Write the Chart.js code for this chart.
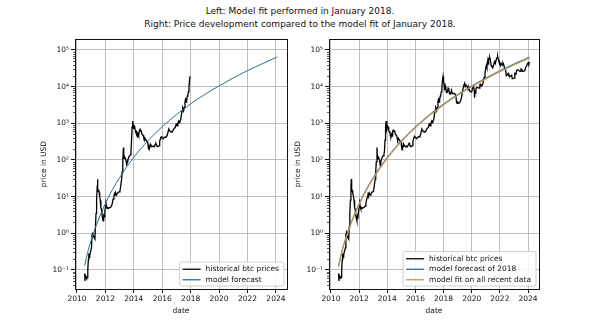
<!DOCTYPE html>
<html>
<head>
<meta charset="utf-8">
<script src="https://cdn.jsdelivr.net/npm/chart.js@4.4.0/dist/chart.umd.min.js"></script>
<style>
  body { margin: 0; background: #fff; width: 600px; height: 328px; position: relative; overflow: hidden; font-family: "DejaVu Sans"; }
  #title { position: absolute; left: 0; top: 5px; width: 600px; text-align: center; font-size: 9px; line-height: 13px; color: #111; }
  #chart-left { position: absolute; left: 31px; top: 0; }
  #chart-right { position: absolute; left: 285px; top: 0; }
</style>
</head>
<body>
<div id="title">Left: Model fit performed in January 2018.<br>Right: Price development compared to the model fit of January 2018.</div>
<canvas id="chart-left" width="270" height="328"></canvas>
<canvas id="chart-right" width="268" height="328"></canvas>
<script>

//************ Data */

// historical btc price, date as decimal year
const priceDates = [
  2010.54, 2010.56, 2010.60, 2010.64, 2010.68, 2010.72, 2010.76, 2010.80, 2010.83, 2010.86,
  2010.90, 2010.94, 2010.98, 2011.02, 2011.06, 2011.10, 2011.14, 2011.18, 2011.22, 2011.26,
  2011.30, 2011.34, 2011.38, 2011.42, 2011.44, 2011.47, 2011.50, 2011.53, 2011.56, 2011.60,
  2011.64, 2011.68, 2011.72, 2011.76, 2011.80, 2011.84, 2011.88, 2011.92, 2011.96, 2012.00,
  2012.04, 2012.08, 2012.12, 2012.16, 2012.22, 2012.28, 2012.36, 2012.42, 2012.48, 2012.54,
  2012.60, 2012.64, 2012.68, 2012.72, 2012.78, 2012.84, 2012.90, 2012.96, 2013.02, 2013.08,
  2013.14, 2013.18, 2013.22, 2013.27, 2013.29, 2013.32, 2013.36, 2013.40, 2013.46, 2013.50,
  2013.54, 2013.58, 2013.64, 2013.70, 2013.76, 2013.80, 2013.84, 2013.88, 2013.92, 2013.95,
  2013.98, 2014.02, 2014.06, 2014.10, 2014.14, 2014.18, 2014.22, 2014.26, 2014.30, 2014.34,
  2014.38, 2014.42, 2014.46, 2014.50, 2014.54, 2014.58, 2014.62, 2014.66, 2014.70, 2014.74,
  2014.78, 2014.82, 2014.86, 2014.90, 2014.94, 2014.98, 2015.02, 2015.05, 2015.08, 2015.12,
  2015.16, 2015.20, 2015.26, 2015.32, 2015.38, 2015.44, 2015.50, 2015.55, 2015.60, 2015.66,
  2015.72, 2015.78, 2015.82, 2015.86, 2015.90, 2015.96, 2016.02, 2016.08, 2016.14, 2016.20,
  2016.26, 2016.32, 2016.38, 2016.46, 2016.50, 2016.56, 2016.62, 2016.68, 2016.74, 2016.80,
  2016.86, 2016.92, 2016.98, 2017.02, 2017.05, 2017.10, 2017.16, 2017.20, 2017.24, 2017.30,
  2017.36, 2017.40, 2017.44, 2017.48, 2017.52, 2017.56, 2017.60, 2017.64, 2017.68, 2017.72,
  2017.76, 2017.80, 2017.84, 2017.88, 2017.92, 2017.96, 2018.00, 2018.04, 2018.08, 2018.12,
  2018.16, 2018.20, 2018.26, 2018.32, 2018.38, 2018.44, 2018.50, 2018.56, 2018.62, 2018.70,
  2018.80, 2018.88, 2018.92, 2018.96, 2019.00, 2019.10, 2019.20, 2019.28, 2019.36, 2019.44,
  2019.50, 2019.54, 2019.60, 2019.68, 2019.74, 2019.80, 2019.86, 2019.92, 2020.00, 2020.06,
  2020.12, 2020.18, 2020.20, 2020.24, 2020.30, 2020.36, 2020.46, 2020.54, 2020.58, 2020.64,
  2020.70, 2020.78, 2020.82, 2020.88, 2020.94, 2021.00, 2021.04, 2021.08, 2021.12, 2021.16,
  2021.20, 2021.24, 2021.28, 2021.32, 2021.38, 2021.44, 2021.50, 2021.56, 2021.62, 2021.68,
  2021.74, 2021.80, 2021.84, 2021.88, 2021.92, 2021.98, 2022.04, 2022.10, 2022.16, 2022.22,
  2022.28, 2022.34, 2022.40, 2022.46, 2022.52, 2022.58, 2022.64, 2022.70, 2022.78, 2022.84,
  2022.88, 2022.96, 2023.02, 2023.06, 2023.14, 2023.20, 2023.28, 2023.36, 2023.44, 2023.50,
  2023.56, 2023.62, 2023.70, 2023.78, 2023.84, 2023.90, 2023.96, 2024.02, 2024.06, 2024.10
];
const priceUsd = [
  0.08, 0.05, 0.07, 0.065, 0.06, 0.062, 0.10, 0.19, 0.28, 0.22,
  0.25, 0.30, 0.30, 0.40, 0.90, 1.05, 0.85, 0.80, 0.75, 0.70,
  1.5, 3.5, 8, 18, 30, 17, 14, 15, 13, 10,
  8, 5, 4.5, 3.2, 2.6, 2.2, 3.0, 2.8, 4.0, 5.2,
  6.5, 5.5, 4.8, 5.0, 4.8, 5.0, 5.1, 5.5, 6.5, 8.5,
  10, 12, 11, 12.5, 11, 12, 13, 13.5, 14, 20,
  30, 47, 90, 220, 130, 110, 120, 110, 95, 70,
  90, 100, 120, 130, 140, 170, 350, 800, 1150, 900,
  700, 850, 800, 650, 580, 600, 450, 430, 500, 450,
  600, 650, 620, 630, 580, 500, 480, 470, 400, 350,
  390, 370, 350, 330, 320, 300, 220, 190, 240, 230,
  270, 250, 240, 230, 240, 230, 260, 285, 260, 230,
  235, 245, 320, 370, 420, 430, 400, 380, 420, 415,
  430, 450, 520, 700, 650, 600, 580, 600, 610, 700,
  740, 770, 960, 1000, 850, 1000, 1150, 1050, 1150, 1250,
  1800, 2200, 2700, 2500, 2400, 2700, 4000, 4500, 3800, 4300,
  5500, 6000, 7200, 9000, 15000, 19000, 14000, 11500, 8000, 10500,
  9000, 7000, 7000, 9000, 7500, 6500, 6300, 8000, 6500, 6500,
  6400, 5500, 3800, 3500, 3800, 3500, 4000, 5200, 8000, 11000,
  12500, 10000, 11000, 10000, 8200, 9200, 7500, 7200, 7200, 9000,
  10200, 8000, 5000, 6800, 8800, 9600, 9300, 9200, 11500, 11800,
  10500, 11500, 13500, 18000, 23000, 33000, 38000, 33000, 47000, 57000,
  50000, 58000, 63000, 55000, 38000, 35000, 33000, 40000, 48000, 43000,
  55000, 62000, 67000, 57000, 50000, 47000, 38000, 43000, 39000, 45000,
  40000, 30000, 29000, 20000, 21000, 23000, 20000, 19500, 19500, 20500,
  16500, 16700, 17000, 23000, 22000, 28000, 29000, 27000, 26000, 30500,
  29500, 26000, 26500, 28000, 35000, 37000, 42000, 45000, 42000, 47000
];
// the left panel only has prices up to the 2018 fit
const fitCutoff = 2017.97;

// model curves
const modelDates = [
  2010.54, 2010.75, 2011.0, 2011.25, 2011.5, 2011.75, 2012.0, 2012.5, 2013.0, 2013.5,
  2014.0, 2014.5, 2015.0, 2015.5, 2016.0, 2016.5, 2017.0, 2017.5, 2018.0, 2019.0,
  2020.0, 2021.0, 2022.0, 2023.0, 2024.0, 2024.1
];
const forecast2018 = [
  0.13, 0.30, 0.65, 1.26, 2.3, 3.95, 6.5, 15.6, 33, 65,
  118, 204, 335, 530, 810, 1190, 1730, 2430, 3400, 6150,
  10500, 17300, 27300, 41600, 61800, 64100
];
const fitRecent = [
  0.122, 0.28, 0.61, 1.18, 2.16, 3.7, 6.1, 14.7, 31, 61,
  111, 192, 315, 498, 760, 1120, 1630, 2280, 3200, 5800,
  9900, 16300, 25700, 39100, 58100, 60300
];

// axes
const yearTicks = [2010, 2012, 2014, 2016, 2018, 2020, 2022, 2024];
const decadeTicks = [0.1, 1, 10, 100, 1000, 10000, 100000];
const decadeLabels = ['10\u207b\u00b9', '10\u2070', '10\u00b9', '10\u00b2', '10\u00b3', '10\u2074', '10\u2075'];

const FONT = 'DejaVu Sans';
const INK = '#111';
const GRID = '#bdbdbd';
const BLUE = '#2d6d93';
const TAN = '#c4955a';

function points(xs, ys) {
    return xs.map((x, i) => ({ x: x, y: ys[i] }));
}

//******** Plugins */
// matplotlib-like frame + minor log ticks
const framePlugin = {
    id: 'frame',
    afterDraw(chart) {
        const ctx = chart.ctx;
        const a = chart.chartArea;
        const y = chart.scales.y;
        ctx.save();
        ctx.strokeStyle = INK;
        ctx.lineWidth = 0.7;
        for (let d = -2; d <= 5; d++) {
            for (let k = 2; k <= 9; k++) {
                const v = k * Math.pow(10, d);
                if (v < y.min || v > y.max) continue;
                const py = Math.round(y.getPixelForValue(v)) + 0.5;
                ctx.beginPath();
                ctx.moveTo(a.left - 2, py);
                ctx.lineTo(a.left, py);
                ctx.stroke();
            }
        }
        ctx.lineWidth = 1;
        ctx.strokeRect(Math.round(a.left) + 0.5, Math.round(a.top) + 0.5,
            Math.round(a.right - a.left), Math.round(a.bottom - a.top));
        ctx.restore();
    }
};

// legend drawn inside the lower right corner
const legendPlugin = {
    id: 'insideLegend',
    afterDraw(chart) {
        const ctx = chart.ctx;
        const a = chart.chartArea;
        const items = chart.data.datasets;
        ctx.save();
        ctx.font = '7.5px "' + FONT + '"';
        const textW = Math.max(...items.map(d => ctx.measureText(d.label).width));
        const rowH = 10.5, handle = 18;
        const w = 3 + handle + 5 + textW + 5;
        const h = items.length * rowH + 3;
        const x0 = a.right - 3 - w;
        const y0 = a.bottom - 3 - h;
        ctx.fillStyle = 'rgba(255,255,255,0.85)';
        ctx.strokeStyle = '#d0d0d0';
        ctx.lineWidth = 1;
        ctx.beginPath();
        ctx.roundRect(x0, y0, w, h, 2);
        ctx.fill();
        ctx.stroke();
        items.forEach((d, i) => {
            const cy = y0 + 2 + rowH * (i + 0.5);
            ctx.strokeStyle = d.borderColor;
            ctx.lineWidth = 1.3;
            ctx.beginPath();
            ctx.moveTo(x0 + 3, cy);
            ctx.lineTo(x0 + 3 + handle, cy);
            ctx.stroke();
            ctx.fillStyle = INK;
            ctx.textBaseline = 'middle';
            ctx.fillText(d.label, x0 + 3 + handle + 5, cy);
        });
        ctx.restore();
    }
};

//******** Options */
function optionsGen() {
    return {
        responsive: false,
        animation: false,
        layout: { padding: { top: 39, right: 14, left: 0, bottom: 0 } },
        plugins: {
            legend: { display: false },
            tooltip: { enabled: false }
        },
        scales: {
            x: {
                type: 'linear',
                min: 2009.86,
                max: 2024.78,
                afterBuildTicks: (scale) => { scale.ticks = yearTicks.map(v => ({ value: v })); },
                afterFit: (scale) => { scale.height = 39; },
                grid: { color: GRID, lineWidth: 1, tickColor: INK, tickLength: 4 },
                border: { display: false },
                ticks: {
                    color: INK,
                    font: { family: FONT, size: 7.5 },
                    padding: 2,
                    maxRotation: 0,
                    autoSkip: false,
                    callback: (v) => String(v)
                },
                title: {
                    display: true,
                    text: 'date',
                    color: INK,
                    font: { family: FONT, size: 7.5 },
                    padding: { top: 0, bottom: 12 }
                }
            },
            y: {
                type: 'logarithmic',
                min: Math.pow(10, -1.52),
                max: Math.pow(10, 5.3),
                afterBuildTicks: (scale) => { scale.ticks = decadeTicks.map(v => ({ value: v })); },
                afterFit: (scale) => { scale.width = 44; },
                grid: { color: GRID, lineWidth: 1, tickColor: INK, tickLength: 4 },
                border: { display: false },
                ticks: {
                    color: INK,
                    font: { family: FONT, size: 7.5 },
                    padding: 2,
                    autoSkip: false,
                    callback: (v, i) => decadeLabels[i]
                },
                title: {
                    display: true,
                    text: 'price in USD',
                    color: INK,
                    font: { family: FONT, size: 7.5 },
                    padding: { top: 9, bottom: 0 }
                }
            }
        }
    };
}

function lineSet(label, data, color, width, order, smooth) {
    return {
        label: label,
        data: data,
        borderColor: color,
        borderWidth: width,
        pointRadius: 0,
        fill: false,
        order: order,
        cubicInterpolationMode: smooth ? 'monotone' : 'default',
        tension: 0
    };
}

//******** Charts */
const leftIdx = priceDates.map((d, i) => i).filter(i => priceDates[i] <= fitCutoff);

new Chart(document.getElementById('chart-left').getContext('2d'), {
    type: 'line',
    data: {
        datasets: [
            lineSet('historical btc prices',
                points(leftIdx.map(i => priceDates[i]), leftIdx.map(i => priceUsd[i])), '#000', 1.3, 2, false),
            lineSet('model forecast', points(modelDates, forecast2018), BLUE, 1, 1, true)
        ]
    },
    options: optionsGen(),
    plugins: [framePlugin, legendPlugin]
});

new Chart(document.getElementById('chart-right').getContext('2d'), {
    type: 'line',
    data: {
        datasets: [
            lineSet('historical btc prices', points(priceDates, priceUsd), '#000', 1.3, 3, false),
            lineSet('model forecast of 2018', points(modelDates, forecast2018), BLUE, 1, 2, true),
            lineSet('model fit on all recent data', points(modelDates, fitRecent), TAN, 1.2, 1, true)
        ]
    },
    options: optionsGen(),
    plugins: [framePlugin, legendPlugin]
});
</script>
</body>
</html>
